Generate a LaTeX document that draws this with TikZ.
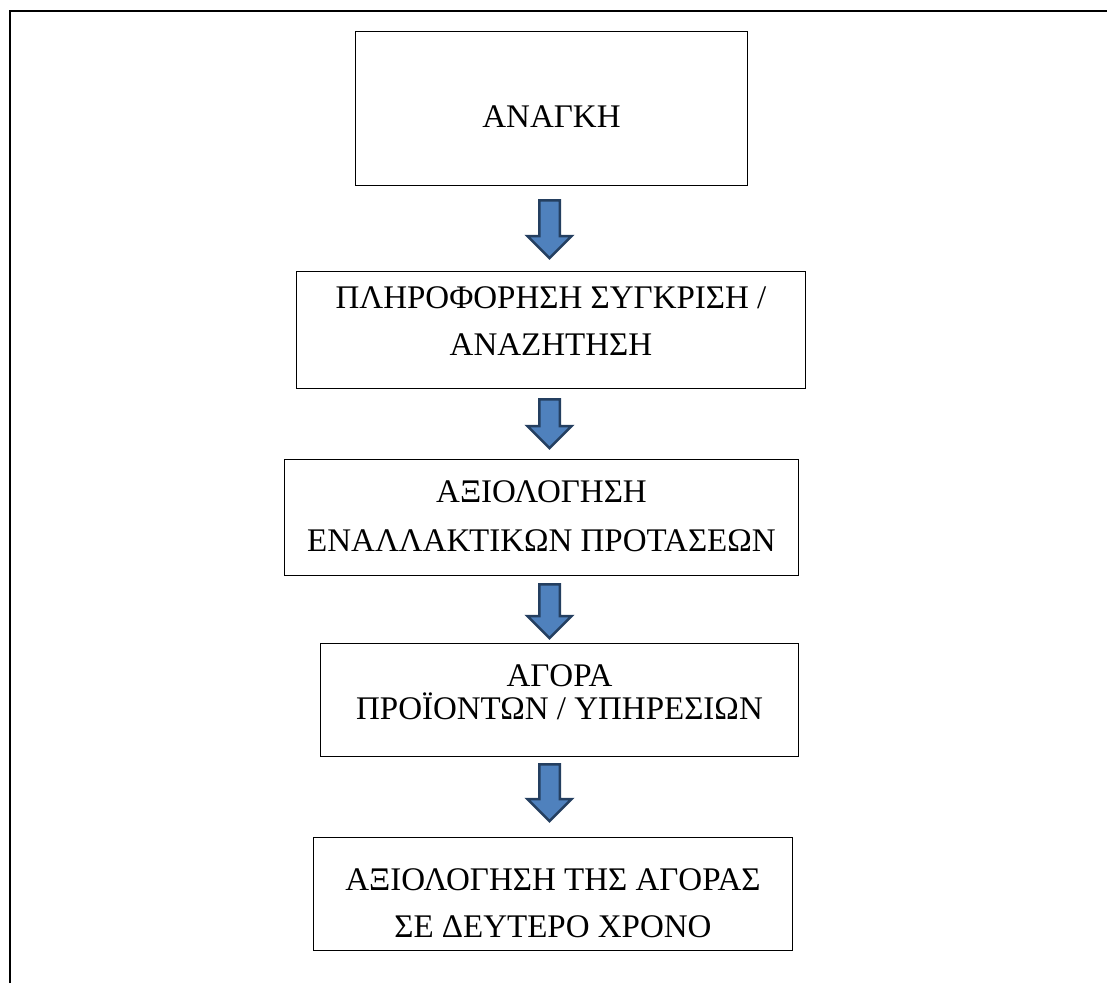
\documentclass[tikz,border=0pt]{standalone}
\usepackage{fontspec}
\setmainfont{Liberation Serif}
\usepackage{tikz}
\usetikzlibrary{calc}

\definecolor{arrowfill}{HTML}{4F81BD}
\definecolor{arrowline}{HTML}{243F60}

\tikzset{
	stepbox/.style={rectangle, draw=black, line width=1.2pt},
	blockarrow/.style 2 args={draw=arrowline, fill=arrowfill, line width=2.5pt, line join=miter,
		to path={let \p1=($(\tikztostart.south -| spine)+(0,-#1)$),
			\p2=($(\tikztotarget.north -| spine)+(0,#2)$) in
			(\x1-10.25pt,\y1) -- (\x1+10.25pt,\y1) -- (\x1+10.25pt,\y2+22pt) -- (\x1+22pt,\y2+22pt)
			-- (\x1,\y2) -- (\x1-22pt,\y2+22pt) -- (\x1-10.25pt,\y2+22pt) -- cycle}}
}

\begin{document}
\begin{tikzpicture}[x=1pt,y=1pt]
	\useasboundingbox (0,0) rectangle (1107,-983);
	% page frame
	\draw[line width=2pt] (10,-983) -- (10,-11) -- (1107,-11);
	\coordinate (spine) at (549.5,0);

	\begin{scope}[every node/.style={stepbox},
		every label/.append style={draw=none, align=center, font=\fontsize{33}{47}\selectfont}]
		\node[minimum width=392pt, minimum height=154pt,
			label={[yshift=-8pt]center:{ΑΝΑΓΚΗ}}] (anaghi) at (551.5,-108.5) {};
		\node[minimum width=509pt, minimum height=117pt,
			label={[yshift=8.5pt]center:{ΠΛΗΡΟΦΟΡΗΣΗ ΣΥΓΚΡΙΣΗ /\\ΑΝΑΖΗΤΗΣΗ}}] (plirof) at (551,-330) {};
		\node[minimum width=514pt, minimum height=116pt,
			label={[yshift=1.5pt, font=\fontsize{33}{49}\selectfont]center:{ΑΞΙΟΛΟΓΗΣΗ\\ΕΝΑΛΛΑΚΤΙΚΩΝ ΠΡΟΤΑΣΕΩΝ}}] (axiol) at (541.5,-517.5) {};
		\node[minimum width=478pt, minimum height=113pt,
			label={[yshift=7.5pt, font=\fontsize{33}{33}\selectfont]center:{ΑΓΟΡΑ\\ΠΡΟΪΟΝΤΩΝ / ΥΠΗΡΕΣΙΩΝ}}] (agora) at (559.5,-700) {};
		\node[minimum width=479pt, minimum height=113pt,
			label={[yshift=-9.5pt]center:{ΑΞΙΟΛΟΓΗΣΗ ΤΗΣ ΑΓΟΡΑΣ\\ΣΕ ΔΕΥΤΕΡΟ ΧΡΟΝΟ}}] (deftero) at (553,-894) {};
	\end{scope}

	\begin{scope}
		\path (anaghi) edge[blockarrow={14.25pt}{12.8pt}] (plirof);
		\path (plirof) edge[blockarrow={10.25pt}{10.8pt}] (axiol);
		\path (axiol) edge[blockarrow={8.25pt}{4.8pt}] (agora);
		\path (agora) edge[blockarrow={7.25pt}{15.8pt}] (deftero);
	\end{scope}
\end{tikzpicture}
\end{document}
